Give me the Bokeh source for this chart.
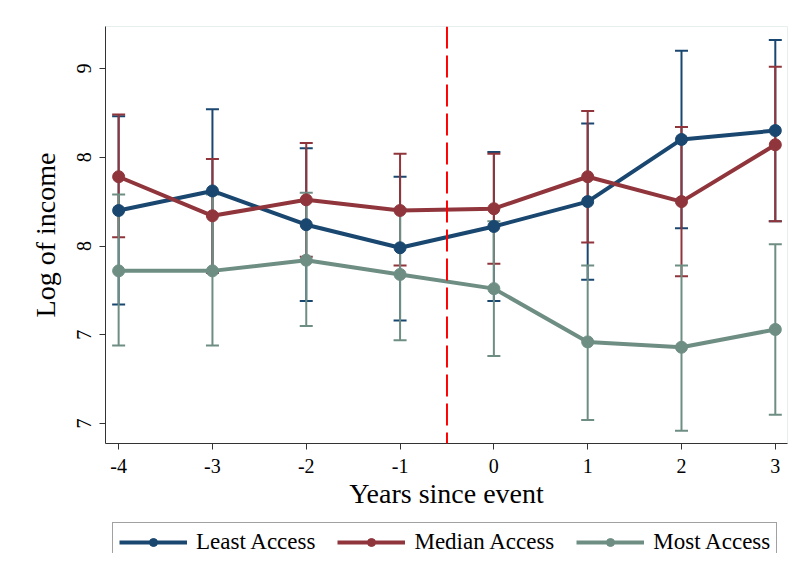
from bokeh.plotting import figure
from bokeh.layouts import column
from bokeh.models import Range1d, Span, Whisker, ColumnDataSource, Legend, LegendItem, FixedTicker, TeeHead
from bokeh.embed import file_html
from bokeh.resources import INLINE

years = [-4, -3, -2, -1, 0, 1, 2, 3]
year_labels = ["-4", "-3", "-2", "-1", "0", "1", "2", "3"]

least = [8.20, 8.31, 8.12, 7.99, 8.11, 8.25, 8.60, 8.65]
least_hi = [8.73, 8.77, 8.55, 8.39, 8.53, 8.69, 9.10, 9.16]
least_lo = [7.67, 7.85, 7.69, 7.58, 7.69, 7.81, 8.10, 8.14]

median = [8.39, 8.17, 8.26, 8.20, 8.21, 8.39, 8.25, 8.57]
median_hi = [8.74, 8.49, 8.58, 8.52, 8.52, 8.76, 8.67, 9.01]
median_lo = [8.05, 7.85, 7.94, 7.89, 7.90, 8.02, 7.83, 8.14]

most = [7.86, 7.86, 7.92, 7.84, 7.76, 7.46, 7.43, 7.53]
most_hi = [8.29, 8.29, 8.30, 8.21, 8.14, 7.89, 7.89, 8.01]
most_lo = [7.44, 7.44, 7.55, 7.47, 7.38, 7.02, 6.96, 7.05]

y_ticks = [7.0, 7.5, 8.0, 8.5, 9.0]
y_labels = ["7", "7", "8", "8", "9"]
event_x = -0.5

series = [
    ("Least Access", least, least_lo, least_hi, "#1a476f"),
    ("Median Access", median, median_lo, median_hi, "#90353b"),
    ("Most Access", most, most_lo, most_hi, "#6e8e84"),
]

FONT = "Liberation Serif"
W = 796

p = figure(width=W, height=515, output_backend="svg", toolbar_location=None,
           x_range=Range1d(-4.14, 3.13), y_range=Range1d(6.888, 9.236),
           min_border_left=105, min_border_right=9, min_border_top=26, min_border_bottom=72)
p.xgrid.visible = False
p.ygrid.visible = False
p.outline_line_color = "#e6eeee"
p.background_fill_color = "white"
p.border_fill_color = "white"

p.xaxis.ticker = FixedTicker(ticks=years)
p.xaxis.major_label_overrides = {t: l for t, l in zip(years, year_labels)}
p.yaxis.ticker = FixedTicker(ticks=y_ticks)
p.yaxis.major_label_overrides = {t: l for t, l in zip(y_ticks, y_labels)}
p.yaxis.major_label_orientation = "vertical"
for ax in (p.xaxis[0], p.yaxis[0]):
    ax.minor_tick_line_color = None
    ax.major_tick_in = 0
    ax.major_tick_out = 6
    ax.axis_line_color = "#333333"
    ax.major_tick_line_color = "#333333"
    ax.major_label_text_font = FONT
    ax.major_label_text_font_size = "20px"
    ax.major_label_text_color = "black"
    ax.axis_label_text_font = FONT
    ax.axis_label_text_font_size = "28px"
    ax.axis_label_text_font_style = "normal"
    ax.axis_label_text_color = "black"
p.xaxis.axis_label = "Years since event"
p.yaxis.axis_label = "Log of income"
p.xaxis.major_label_standoff = 9
p.xaxis.axis_label_standoff = 2
p.yaxis.major_label_standoff = 8
p.yaxis.axis_label_standoff = 14

for name, vals, lo, hi, color in series:
    src = ColumnDataSource(dict(x=years, y=vals, lo=lo, hi=hi))
    w = Whisker(base="x", lower="lo", upper="hi", source=src, line_color=color, line_width=2,
                upper_head=TeeHead(size=13, line_color=color, line_width=2),
                lower_head=TeeHead(size=13, line_color=color, line_width=2))
    p.add_layout(w)
    p.line("x", "y", source=src, line_color=color, line_width=4)
    p.scatter("x", "y", source=src, size=12, fill_color=color, line_color=color)

p.add_layout(Span(location=event_x, dimension="height", line_color="#ff0000",
                  line_width=2, line_dash="22 7"))

# legend strip below the chart
lg = figure(width=W, height=38, output_backend="svg", toolbar_location=None,
            x_range=Range1d(0, 1), y_range=Range1d(0, 1),
            min_border_left=105, min_border_right=9, min_border_top=0, min_border_bottom=0)
lg.axis.visible = False
lg.xgrid.visible = False
lg.ygrid.visible = False
lg.outline_line_color = None
lg.border_fill_color = "white"
items = []
for name, vals, lo, hi, color in series:
    esrc = ColumnDataSource(dict(x=[-2.0, -1.5], y=[-2.0, -2.0]))
    l = lg.line("x", "y", source=esrc, line_color=color, line_width=4)
    c = lg.scatter("x", "y", source=esrc, size=10, fill_color=color, line_color=color)
    items.append(LegendItem(label=name, renderers=[l, c]))
legend = Legend(items=items, orientation="horizontal", location="top_left",
                label_text_font=FONT, label_text_font_size="23px", label_text_color="black",
                glyph_width=68, glyph_height=20, spacing=22, padding=6, margin=7,
                label_standoff=9, border_line_color="#444444", border_line_width=1,
                background_fill_color="white", background_fill_alpha=1.0)
lg.add_layout(legend, "center")

open("out.html", "w").write(file_html(column(p, lg, spacing=0), INLINE))
